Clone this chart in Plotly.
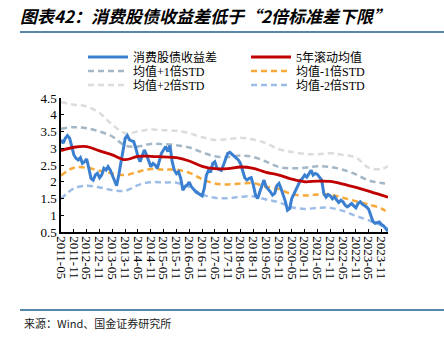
import plotly.graph_objects as go
import pandas as pd

W, H = 444, 338
L, R, T, B = 61, 56, 98, 106

# ---------------- data ----------------
spread_dates = pd.date_range("2011-05-01", periods=154, freq="MS")
spread = [
    3.25, 3.15, 3.30, 3.38, 3.30, 3.00, 2.80, 2.70, 2.65, 2.72,
    2.55, 2.60, 2.68, 2.40, 2.10, 2.05, 2.20, 2.25, 2.12, 2.20,
    2.40, 2.35, 2.45, 2.35, 2.20, 2.00, 1.88, 2.20, 2.60, 3.00,
    3.30, 3.38, 3.25, 3.22, 3.20, 3.00, 2.75, 2.60, 2.80, 2.95,
    2.80, 2.60, 2.45, 2.55, 2.50, 2.40, 2.60, 2.85, 2.95, 3.05,
    2.90, 3.08, 2.60, 2.35, 2.24, 2.30, 2.10, 1.75, 1.85, 1.90,
    1.99, 1.85, 1.78, 1.70, 1.66, 1.62, 1.58, 1.80, 2.20, 2.35,
    2.28, 2.55, 2.60, 2.40, 2.36, 2.34, 2.50, 2.70, 2.85, 2.88,
    2.82, 2.78, 2.70, 2.65, 2.55, 2.35, 2.12, 2.05, 2.10, 2.12,
    1.90, 1.60, 1.50, 1.70, 1.85, 2.05, 1.85, 1.78, 1.70, 1.60,
    1.65, 1.88, 1.95, 1.79, 1.60, 1.40, 1.15, 1.20, 1.50, 1.64,
    1.80, 1.95, 2.04, 2.10, 2.20, 2.14, 2.25, 2.34, 2.20, 2.25,
    2.22, 2.15, 2.05, 1.64, 1.54, 1.62, 1.58, 1.49, 1.55, 1.45,
    1.38, 1.45, 1.40, 1.30, 1.25, 1.30, 1.35, 1.28, 1.22, 1.35,
    1.40, 1.33, 1.30, 1.25, 1.18, 0.98, 0.82, 0.76, 0.78, 0.80,
    0.72, 0.68, 0.60, 0.52,
]

band_dates = list(pd.date_range("2011-05-01", "2023-11-01", freq="6MS")) + [pd.Timestamp("2024-02-01")]
mean5y = [2.93, 3.03, 3.05, 2.92, 2.80, 2.66, 2.76, 2.76, 2.74, 2.72,
          2.62, 2.46, 2.39, 2.39, 2.44, 2.40, 2.28, 2.20, 2.08, 2.00,
          2.02, 2.01, 1.93, 1.83, 1.72, 1.60, 1.54]
plus1 = [3.58, 3.63, 3.60, 3.50, 3.35, 3.08, 3.05, 3.13, 3.12, 3.09,
         3.02, 2.88, 2.76, 2.74, 2.78, 2.74, 2.60, 2.44, 2.40, 2.42,
         2.46, 2.44, 2.36, 2.22, 2.04, 1.96, 1.94]
minus1 = [2.19, 2.42, 2.42, 2.33, 2.25, 2.20, 2.30, 2.38, 2.36, 2.36,
          2.27, 2.08, 1.95, 1.92, 1.95, 1.96, 1.85, 1.78, 1.63, 1.59,
          1.62, 1.62, 1.52, 1.42, 1.32, 1.20, 1.07]
plus2 = [4.37, 4.30, 4.25, 4.05, 3.70, 3.45, 3.50, 3.56, 3.54, 3.52,
         3.45, 3.33, 3.25, 3.27, 3.31, 3.26, 3.15, 2.97, 2.89, 2.83,
         2.82, 2.85, 2.80, 2.72, 2.42, 2.38, 2.47]
minus2 = [1.49, 1.80, 1.88, 1.83, 1.75, 1.73, 1.90, 1.99, 1.98, 1.97,
          1.85, 1.62, 1.52, 1.51, 1.55, 1.56, 1.47, 1.39, 1.24, 1.19,
          1.22, 1.22, 1.13, 0.98, 0.85, 0.70, 0.60]

tick_dates = list(pd.date_range("2011-05-01", "2023-11-01", freq="6MS"))
tick_text = [d.strftime("%Y-%m") for d in tick_dates]
y_ticks = [0.5, 1, 1.5, 2, 2.5, 3, 3.5, 4, 4.5]
y_tick_text = ["0.5", "1", "1.5", "2", "2.5", "3", "3.5", "4", "4.5"]

names = ["消费股债收益差", "5年滚动均值", "均值+1倍STD", "均值-1倍STD", "均值+2倍STD", "均值-2倍STD"]

# ---------------- figure ----------------
SERIF = "Liberation Serif, 'Noto Sans CJK SC', serif"
DASH = "6px,4px"
fig = go.Figure()

fig.add_trace(go.Scatter(x=band_dates, y=plus2, mode="lines", name=names[4], legend="legend3",
                         legendrank=1,
                         line=dict(color="#dcdcdc", width=2.5, dash=DASH, shape="spline")))
fig.add_trace(go.Scatter(x=band_dates, y=plus1, mode="lines", name=names[2], legend="legend2",
                         legendrank=1,
                         line=dict(color="#a3b7c6", width=2.5, dash=DASH, shape="spline")))
fig.add_trace(go.Scatter(x=band_dates, y=minus1, mode="lines", name=names[3], legend="legend2",
                         legendrank=2,
                         line=dict(color="#f9a93a", width=2.5, dash=DASH, shape="spline")))
fig.add_trace(go.Scatter(x=band_dates, y=minus2, mode="lines", name=names[5], legend="legend3",
                         legendrank=2,
                         line=dict(color="#9dbde9", width=2.5, dash=DASH, shape="spline")))
fig.add_trace(go.Scatter(x=spread_dates, y=spread, mode="lines", name=names[0], legend="legend",
                         legendrank=1,
                         line=dict(color="#3a7fd0", width=3)))
fig.add_trace(go.Scatter(x=band_dates, y=mean5y, mode="lines", name=names[1], legend="legend",
                         legendrank=2,
                         line=dict(color="#c00000", width=2.8, shape="spline")))

leg_common = dict(orientation="h", xref="paper", yref="container", x=(83 - L) / (W - L - R),
                  xanchor="left", yanchor="middle", bgcolor="rgba(0,0,0,0)",
                  font=dict(family=SERIF, size=12, color="#000"),
                  entrywidth=108, entrywidthmode="pixels", itemwidth=40,
                  tracegroupgap=0, itemclick=False)

fig.update_layout(
    width=W, height=H,
    margin=dict(l=L, r=R, t=T, b=B, autoexpand=False),
    paper_bgcolor="white", plot_bgcolor="white",
    title=dict(text="<b><i>图表42：消费股债收益差低于“2倍标准差下限”</i></b>",
               xref="container", yref="container", x=20 / W, y=1 - 17 / H,
               xanchor="left", yanchor="middle",
               font=dict(family="'Noto Sans CJK SC'", size=17, color="#000")),
    legend=dict(leg_common, y=1 - 57 / H),
    legend2=dict(leg_common, y=1 - 71 / H),
    legend3=dict(leg_common, y=1 - 85 / H),
    xaxis=dict(type="date", range=["2011-05-01", "2024-02-01"],
               tickvals=tick_dates, ticktext=tick_text, tickangle=90,
               ticks="inside", ticklen=3, tickwidth=1, tickcolor="#000",
               showline=True, linecolor="#000", linewidth=1.5,
               showgrid=False, zeroline=False,
               tickfont=dict(family=SERIF, size=13, color="#000")),
    yaxis=dict(range=[0.5, 4.5], tickvals=y_ticks, ticktext=y_tick_text,
               ticks="inside", ticklen=3, tickwidth=1, tickcolor="#000",
               showline=True, linecolor="#000", linewidth=1.5,
               showgrid=False, zeroline=False,
               tickfont=dict(family=SERIF, size=13, color="#000")),
    shapes=[
        dict(type="line", xref="paper", yref="paper",
             x0=(20 - L) / (W - L - R), x1=(444 - L) / (W - L - R),
             y0=(H - B - 32) / (H - T - B), y1=(H - B - 32) / (H - T - B),
             line=dict(color="#1f5f8f", width=1.5)),
        dict(type="line", xref="paper", yref="paper",
             x0=(20 - L) / (W - L - R), x1=(444 - L) / (W - L - R),
             y0=(H - B - 310) / (H - T - B), y1=(H - B - 310) / (H - T - B),
             line=dict(color="#1f5f8f", width=1.5)),
    ],
    annotations=[
        dict(text="来源：Wind、国金证券研究所", xref="paper", yref="paper",
             x=(22 - L) / (W - L - R), y=(H - B - 323) / (H - T - B),
             xanchor="left", yanchor="middle", showarrow=False,
             font=dict(family="'Noto Sans CJK SC'", size=11, color="#222")),
    ],
)

fig.write_html("out.html")
